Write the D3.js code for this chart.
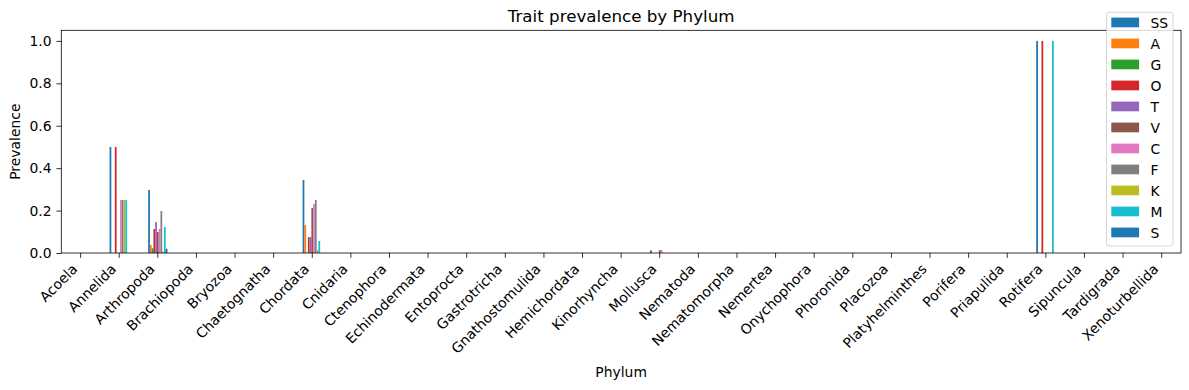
<!DOCTYPE html>
<html>
<head>
<meta charset="utf-8">
<script src="https://cdn.jsdelivr.net/npm/d3@7"></script>
<style>
  body { margin: 0; background: #fff; }
  svg { display: block; font-family: "DejaVu Sans", sans-serif; }
</style>
</head>
<body>
<svg id="chart" width="1189" height="390"></svg>
<script>
const categories = ["Acoela","Annelida","Arthropoda","Brachiopoda","Bryozoa","Chaetognatha","Chordata","Cnidaria","Ctenophora","Echinodermata","Entoprocta","Gastrotricha","Gnathostomulida","Hemichordata","Kinorhyncha","Mollusca","Nematoda","Nematomorpha","Nemertea","Onychophora","Phoronida","Placozoa","Platyhelminthes","Porifera","Priapulida","Rotifera","Sipuncula","Tardigrada","Xenoturbellida"];
const seriesNames = ["SS","A","G","O","T","V","C","F","K","M","S"];
const seriesColors = ["#1f77b4","#ff7f0e","#2ca02c","#d62728","#9467bd","#8c564b","#e377c2","#7f7f7f","#bcbd22","#17becf","#1f77b4"];
//                 Aco Ann   Art    Bra Bry Cha Cho    Cni Cte Ech Ent Gas Gna Hem Kin Mol    Nem Nmm Nmt Ony Pho Pla Plt Por Pri Rot Sip Tar Xen
const valSS = [0, 0.5,  0.297, 0, 0, 0, 0.344, 0, 0, 0, 0, 0, 0, 0, 0, 0.013, 0, 0, 0, 0, 0, 0, 0, 0, 0, 1.0, 0, 0, 0];
const valA  = [0, 0,    0.038, 0, 0, 0, 0.132, 0, 0, 0, 0, 0, 0, 0, 0, 0,     0, 0, 0, 0, 0, 0, 0, 0, 0, 0,   0, 0, 0];
const valG  = [0, 0,    0.022, 0, 0, 0, 0,     0, 0, 0, 0, 0, 0, 0, 0, 0,     0, 0, 0, 0, 0, 0, 0, 0, 0, 0,   0, 0, 0];
const valO  = [0, 0.5,  0.113, 0, 0, 0, 0.075, 0, 0, 0, 0, 0, 0, 0, 0, 0,     0, 0, 0, 0, 0, 0, 0, 0, 0, 1.0, 0, 0, 0];
const valT  = [0, 0,    0.146, 0, 0, 0, 0.075, 0, 0, 0, 0, 0, 0, 0, 0, 0,     0, 0, 0, 0, 0, 0, 0, 0, 0, 0,   0, 0, 0];
const valV  = [0, 0,    0.099, 0, 0, 0, 0.212, 0, 0, 0, 0, 0, 0, 0, 0, 0.014, 0, 0, 0, 0, 0, 0, 0, 0, 0, 0,   0, 0, 0];
const valC  = [0, 0.25, 0.113, 0, 0, 0, 0.231, 0, 0, 0, 0, 0, 0, 0, 0, 0.014, 0, 0, 0, 0, 0, 0, 0, 0, 0, 0,   0, 0, 0];
const valF  = [0, 0.25, 0.198, 0, 0, 0, 0.25,  0, 0, 0, 0, 0, 0, 0, 0, 0,     0, 0, 0, 0, 0, 0, 0, 0, 0, 0,   0, 0, 0];
const valK  = [0, 0.25, 0.006, 0, 0, 0, 0.014, 0, 0, 0, 0, 0, 0, 0, 0, 0,     0, 0, 0, 0, 0, 0, 0, 0, 0, 0,   0, 0, 0];
const valM  = [0, 0.25, 0.123, 0, 0, 0, 0.057, 0, 0, 0, 0, 0, 0, 0, 0, 0,     0, 0, 0, 0, 0, 0, 0, 0, 0, 1.0, 0, 0, 0];
const valS  = [0, 0,    0.02,  0, 0, 0, 0,     0, 0, 0, 0, 0, 0, 0, 0, 0,     0, 0, 0, 0, 0, 0, 0, 0, 0, 0,   0, 0, 0];
const seriesValues = [valSS, valA, valG, valO, valT, valV, valC, valF, valK, valM, valS];
const yTicks = [0, 0.2, 0.4, 0.6, 0.8, 1.0];

const svg = d3.select("#chart");
const L = 61.3, R = 1181, T = 30.3, B = 253;
const fs = 13.9;

const x = d3.scaleBand().domain(categories).range([L, R]).paddingInner(0.5).paddingOuter(0.25);
const xs = d3.scaleBand().domain(seriesNames).range([0, x.bandwidth()]);
const y = d3.scaleLinear().domain([0, 1.05]).range([B, T]);

// bars
seriesNames.forEach((s, j) => {
  svg.append("g").selectAll("rect")
    .data(categories.map((c, i) => ({c, v: seriesValues[j][i]})))
    .join("rect")
    .attr("x", d => x(d.c) + xs(s))
    .attr("width", xs.bandwidth())
    .attr("y", d => y(d.v))
    .attr("height", d => B - y(d.v))
    .attr("fill", seriesColors[j]);
});

// y axis
const yAxis = d3.axisLeft(y).tickValues(yTicks).tickFormat(d3.format(".1f")).tickSize(4.9).tickPadding(4.9);
const gy = svg.append("g").attr("transform", `translate(${L},0)`).call(yAxis);
gy.select(".domain").remove();
gy.selectAll("text").attr("font-size", fs).attr("font-family", "DejaVu Sans").attr("fill", "#000");
gy.selectAll("line").attr("stroke", "#000").attr("stroke-width", 0.8);

// x axis
const xAxis = d3.axisBottom(x).tickSize(4.9).tickPadding(4.9);
const gx = svg.append("g").attr("transform", `translate(0,${B})`).call(xAxis);
gx.select(".domain").remove();
gx.selectAll("line").attr("stroke", "#000").attr("stroke-width", 0.8);
gx.selectAll("text")
  .attr("font-size", fs).attr("font-family", "DejaVu Sans").attr("fill", "#000")
  .attr("text-anchor", "end")
  .attr("dy", null)
  .attr("y", null)
  .attr("transform", "translate(-2.3,17) rotate(-45)");

// frame
svg.append("rect").attr("x", L).attr("y", T).attr("width", R - L).attr("height", B - T)
  .attr("fill", "none").attr("stroke", "#000").attr("stroke-width", 0.8);

// title & labels
svg.append("text").attr("x", (L + R) / 2).attr("y", 21.5).attr("text-anchor", "middle")
  .attr("font-size", 16.7).text("Trait prevalence by Phylum");
svg.append("text").attr("x", (L + R) / 2).attr("y", 377).attr("text-anchor", "middle")
  .attr("font-size", fs).text("Phylum");
svg.append("text").attr("transform", `translate(20,${(T + B) / 2}) rotate(-90)`).attr("text-anchor", "middle")
  .attr("font-size", fs).text("Prevalence");

// legend
const lg = svg.append("g");
lg.append("rect").attr("x", 1106.5).attr("y", 12.3).attr("width", 66.5).attr("height", 233.7)
  .attr("rx", 2.5).attr("fill", "#fff").attr("fill-opacity", 0.8).attr("stroke", "#cccccc").attr("stroke-width", 0.8);
const ly = d3.scaleLinear().domain([0, seriesNames.length - 1]).range([22.5, 232.5]);
seriesNames.forEach((s, j) => {
  lg.append("rect").attr("x", 1111.3).attr("y", ly(j) - 4.9).attr("width", 27.8).attr("height", 9.7).attr("fill", seriesColors[j]);
  lg.append("text").attr("x", 1150.5).attr("y", ly(j)).attr("dy", "0.36em").attr("font-size", fs).text(s);
});
</script>
</body>
</html>
